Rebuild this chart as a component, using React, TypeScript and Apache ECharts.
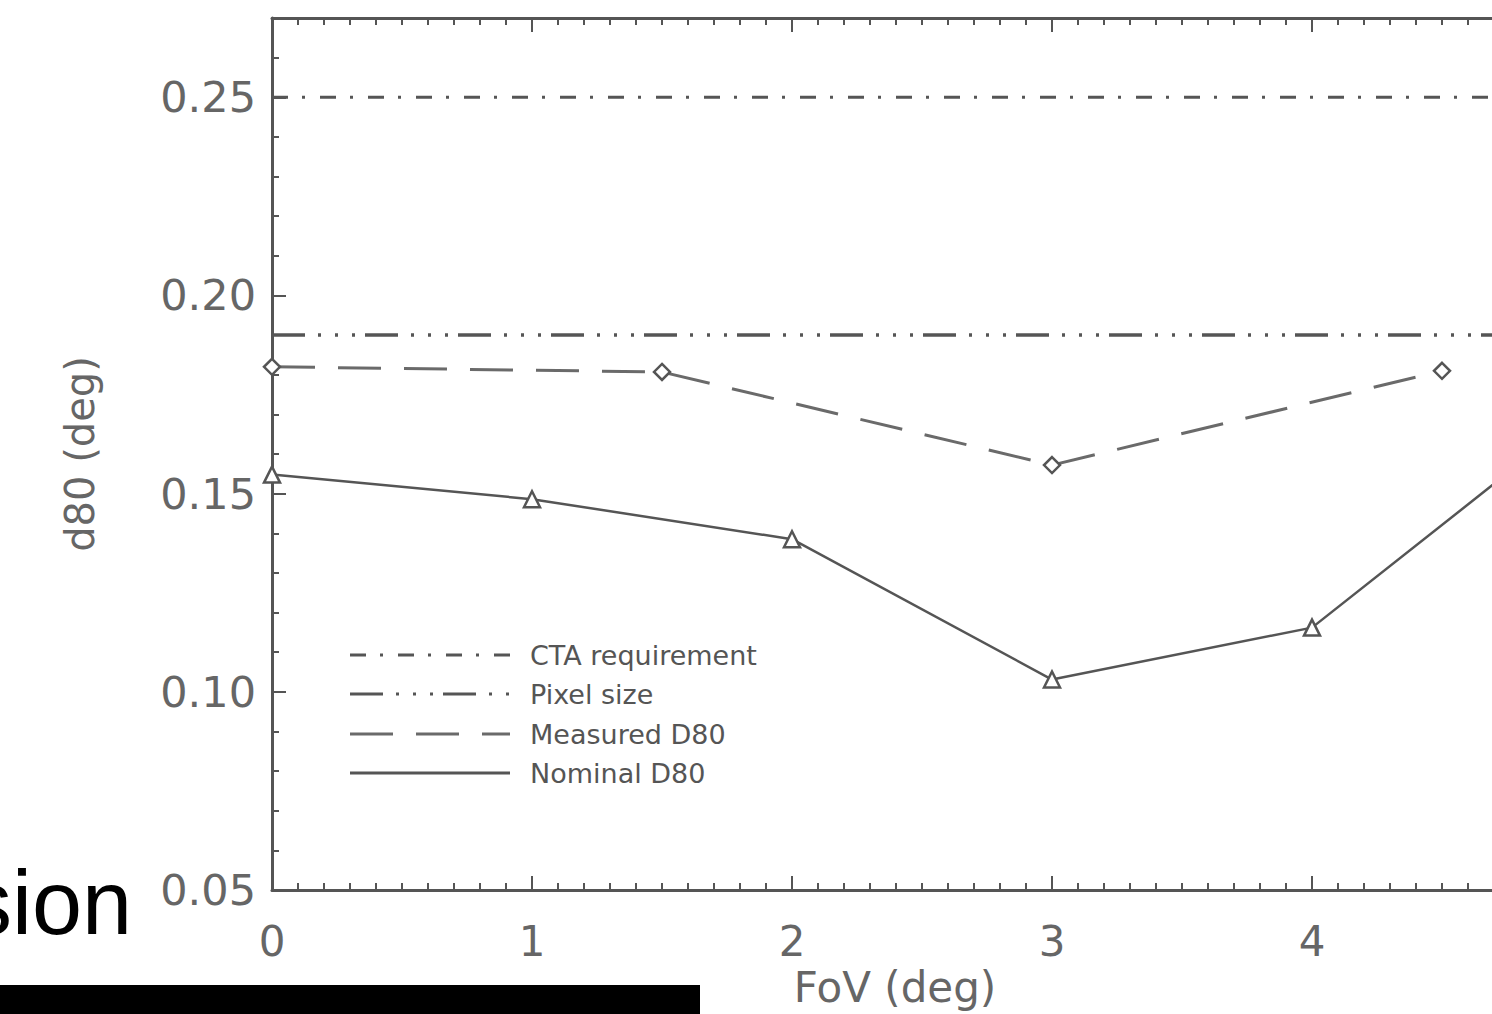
import React, { useEffect, useRef } from "react";
import * as echarts from "echarts";

const nominalX = [0, 1, 2, 3, 4, 5];
const nominalY = [0.1548, 0.1486, 0.1385, 0.1031, 0.1162, 0.168];
const measuredX = [0, 1.5, 3, 4.5];
const measuredY = [0.182, 0.1807, 0.1572, 0.181];
const ctaRequirement = 0.25;
const pixelSize = 0.19;
const xRange = [0, 5];
const legendNames = ["CTA requirement", "Pixel size", "Measured D80", "Nominal D80"];

const GRAY = "#555";
const DASH_CTA = [16, 14, 3, 15];
const DASH_PIX = [33, 13, 3, 14, 3, 14, 3, 10];
const DASH_MEAS = [43, 23];

export default function App() {
  const ref = useRef<HTMLDivElement>(null);
  useEffect(() => {
    if (!ref.current) return;
    const chart = echarts.init(ref.current, undefined, { renderer: "svg" });
    const font = "DejaVu Sans";
    const legendY = [655, 694, 734, 773];
    const legendDash = [DASH_CTA, DASH_PIX, DASH_MEAS, null];
    const legendGraphics: any[] = [];
    legendNames.forEach((n, i) => {
      legendGraphics.push({
        type: "line",
        shape: { x1: 350, y1: legendY[i], x2: 510, y2: legendY[i] },
        style: { stroke: i === 2 ? "#6a6a6a" : GRAY, lineWidth: 3, lineDash: legendDash[i] || undefined },
      });
      legendGraphics.push({
        type: "text",
        x: 530,
        y: legendY[i],
        style: { text: n, fill: "#555", font: `27px "${font}"`, textVerticalAlign: "middle" },
      });
    });
    chart.setOption({
      animation: false,
      backgroundColor: "#fff",
      grid: { left: 272, top: 18, bottom: 124, right: 128 },
      xAxis: [
        {
          type: "value",
          min: xRange[0],
          max: xRange[1],
          interval: 1,
          axisLine: { lineStyle: { color: GRAY, width: 3 } },
          axisTick: { inside: true, length: 14, lineStyle: { color: GRAY, width: 2 } },
          minorTick: { show: true, splitNumber: 10, length: 7, lineStyle: { color: GRAY, width: 2 } },
          splitLine: { show: false },
          axisLabel: { color: "#666", fontSize: 42, fontFamily: font, margin: 30, showMaxLabel: false },
        },
        {
          type: "value",
          position: "top",
          min: xRange[0],
          max: xRange[1],
          interval: 1,
          axisLine: { lineStyle: { color: GRAY, width: 3 } },
          axisTick: { inside: true, length: 14, lineStyle: { color: GRAY, width: 2 } },
          minorTick: { show: true, splitNumber: 10, length: 7, lineStyle: { color: GRAY, width: 2 } },
          splitLine: { show: false },
          axisLabel: { show: false },
        },
      ],
      yAxis: {
        type: "value",
        min: 0.05,
        max: 0.27,
        interval: 0.05,
        name: "d80 (deg)",
        nameLocation: "middle",
        nameGap: 172,
        nameTextStyle: { color: "#666", fontSize: 40, fontFamily: font },
        axisLine: { lineStyle: { color: GRAY, width: 3 } },
        axisTick: { inside: true, length: 14, lineStyle: { color: GRAY, width: 2 } },
        minorTick: { show: true, splitNumber: 5, length: 7, lineStyle: { color: GRAY, width: 2 } },
        splitLine: { show: false },
        axisLabel: {
          color: "#666",
          fontSize: 43,
          fontFamily: font,
          margin: 16,
          showMaxLabel: false,
          formatter: (v: number) => v.toFixed(2),
        },
      },
      series: [
        {
          name: legendNames[0],
          type: "line",
          symbol: "none",
          data: xRange.map((x) => [x, ctaRequirement]),
          lineStyle: { color: GRAY, width: 3, type: DASH_CTA },
        },
        {
          name: legendNames[1],
          type: "line",
          symbol: "none",
          data: xRange.map((x) => [x, pixelSize]),
          lineStyle: { color: GRAY, width: 3.5, type: DASH_PIX },
        },
        {
          name: legendNames[2],
          type: "line",
          symbol: "diamond",
          symbolSize: 16,
          data: measuredX.map((x, i) => [x, measuredY[i]]),
          lineStyle: { color: "#6a6a6a", width: 3, type: DASH_MEAS },
          itemStyle: { color: "#fff", borderColor: GRAY, borderWidth: 2.5 },
        },
        {
          name: legendNames[3],
          type: "line",
          symbol: "triangle",
          symbolSize: 16,
          data: nominalX.map((x, i) => [x, nominalY[i]]),
          lineStyle: { color: GRAY, width: 2.5 },
          itemStyle: { color: "#fff", borderColor: GRAY, borderWidth: 2.5 },
        },
      ],
      graphic: [
        ...legendGraphics,
        {
          type: "text",
          x: 895,
          y: 987,
          style: {
            text: "FoV (deg)",
            fill: "#666",
            font: `42px "${font}"`,
            textAlign: "center",
            textVerticalAlign: "middle",
          },
        },
        {
          type: "text",
          x: 132,
          y: 948,
          style: {
            text: "sion",
            fill: "#000",
            font: `90px "Liberation Sans"`,
            textAlign: "right",
            textVerticalAlign: "bottom",
          },
        },
        {
          type: "rect",
          shape: { x: 0, y: 985, width: 700, height: 40 },
          style: { fill: "#000" },
        },
      ],
    });
    return () => chart.dispose();
  }, []);
  return (
    <div style={{ position: "fixed", left: 0, top: 0, width: 1492, height: 1014, overflow: "hidden", background: "#fff" }}>
      <div ref={ref} style={{ width: 1700, height: 1014 }} />
    </div>
  );
}
